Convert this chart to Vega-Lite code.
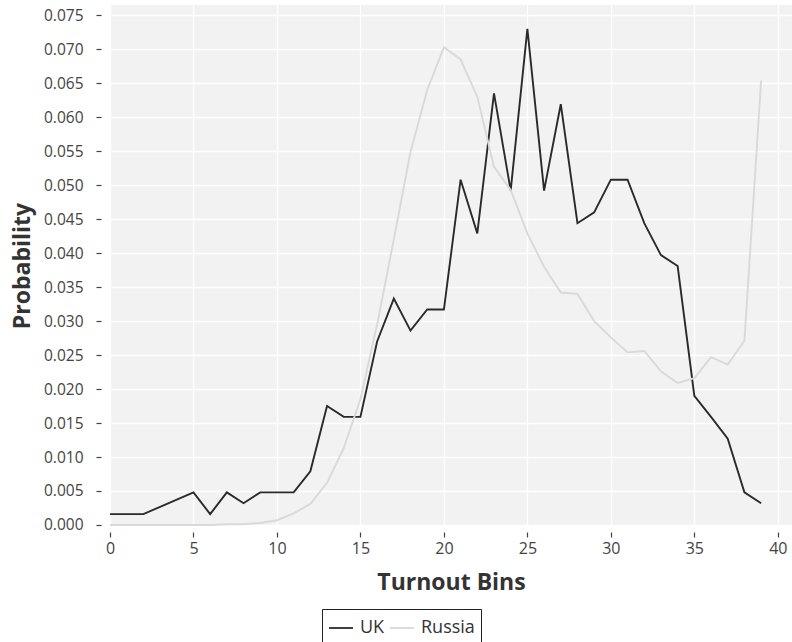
{
  "$schema": "https://vega.github.io/schema/vega-lite/v6.json",
  "width": 682,
  "height": 521,
  "autosize": {"type": "none"},
  "padding": {"left": 110, "top": 5, "right": 0, "bottom": 116},
  "background": "white",
  "config": {
    "font": "Open Sans",
    "view": {"fill": "#f2f2f2", "stroke": null}
  },
  "data": {
    "values": [
      {"bin": 0, "country": "UK", "p": 0.0016},
      {"bin": 2, "country": "UK", "p": 0.0016},
      {"bin": 5, "country": "UK", "p": 0.0048},
      {"bin": 6, "country": "UK", "p": 0.0016},
      {"bin": 7, "country": "UK", "p": 0.0048},
      {"bin": 8, "country": "UK", "p": 0.0032},
      {"bin": 9, "country": "UK", "p": 0.0048},
      {"bin": 10, "country": "UK", "p": 0.0048},
      {"bin": 11, "country": "UK", "p": 0.0048},
      {"bin": 12, "country": "UK", "p": 0.0079},
      {"bin": 13, "country": "UK", "p": 0.0175},
      {"bin": 14, "country": "UK", "p": 0.0159},
      {"bin": 15, "country": "UK", "p": 0.0159},
      {"bin": 16, "country": "UK", "p": 0.0270},
      {"bin": 17, "country": "UK", "p": 0.0333},
      {"bin": 18, "country": "UK", "p": 0.0286},
      {"bin": 19, "country": "UK", "p": 0.0317},
      {"bin": 20, "country": "UK", "p": 0.0317},
      {"bin": 21, "country": "UK", "p": 0.0508},
      {"bin": 22, "country": "UK", "p": 0.0429},
      {"bin": 23, "country": "UK", "p": 0.0635},
      {"bin": 24, "country": "UK", "p": 0.0492},
      {"bin": 25, "country": "UK", "p": 0.0730},
      {"bin": 26, "country": "UK", "p": 0.0492},
      {"bin": 27, "country": "UK", "p": 0.0619},
      {"bin": 28, "country": "UK", "p": 0.0444},
      {"bin": 29, "country": "UK", "p": 0.0460},
      {"bin": 30, "country": "UK", "p": 0.0508},
      {"bin": 31, "country": "UK", "p": 0.0508},
      {"bin": 32, "country": "UK", "p": 0.0444},
      {"bin": 33, "country": "UK", "p": 0.0397},
      {"bin": 34, "country": "UK", "p": 0.0381},
      {"bin": 35, "country": "UK", "p": 0.0190},
      {"bin": 36, "country": "UK", "p": 0.0159},
      {"bin": 37, "country": "UK", "p": 0.0127},
      {"bin": 38, "country": "UK", "p": 0.0048},
      {"bin": 39, "country": "UK", "p": 0.0032},
      {"bin": 0, "country": "Russia", "p": 0.0},
      {"bin": 1, "country": "Russia", "p": 0.0},
      {"bin": 2, "country": "Russia", "p": 0.0},
      {"bin": 3, "country": "Russia", "p": 0.0},
      {"bin": 4, "country": "Russia", "p": 0.0},
      {"bin": 5, "country": "Russia", "p": 0.0},
      {"bin": 6, "country": "Russia", "p": 0.0},
      {"bin": 7, "country": "Russia", "p": 0.0001},
      {"bin": 8, "country": "Russia", "p": 0.0001},
      {"bin": 9, "country": "Russia", "p": 0.0003},
      {"bin": 10, "country": "Russia", "p": 0.0007},
      {"bin": 11, "country": "Russia", "p": 0.0017},
      {"bin": 12, "country": "Russia", "p": 0.0031},
      {"bin": 13, "country": "Russia", "p": 0.0062},
      {"bin": 14, "country": "Russia", "p": 0.0113},
      {"bin": 15, "country": "Russia", "p": 0.0185},
      {"bin": 16, "country": "Russia", "p": 0.0295},
      {"bin": 17, "country": "Russia", "p": 0.0420},
      {"bin": 18, "country": "Russia", "p": 0.0549},
      {"bin": 19, "country": "Russia", "p": 0.0640},
      {"bin": 20, "country": "Russia", "p": 0.0703},
      {"bin": 21, "country": "Russia", "p": 0.0685},
      {"bin": 22, "country": "Russia", "p": 0.0630},
      {"bin": 23, "country": "Russia", "p": 0.0527},
      {"bin": 24, "country": "Russia", "p": 0.0493},
      {"bin": 25, "country": "Russia", "p": 0.0429},
      {"bin": 26, "country": "Russia", "p": 0.0380},
      {"bin": 27, "country": "Russia", "p": 0.0342},
      {"bin": 28, "country": "Russia", "p": 0.0340},
      {"bin": 29, "country": "Russia", "p": 0.0300},
      {"bin": 30, "country": "Russia", "p": 0.0276},
      {"bin": 31, "country": "Russia", "p": 0.0254},
      {"bin": 32, "country": "Russia", "p": 0.0256},
      {"bin": 33, "country": "Russia", "p": 0.0226},
      {"bin": 34, "country": "Russia", "p": 0.0209},
      {"bin": 35, "country": "Russia", "p": 0.0216},
      {"bin": 36, "country": "Russia", "p": 0.0247},
      {"bin": 37, "country": "Russia", "p": 0.0236},
      {"bin": 38, "country": "Russia", "p": 0.0271},
      {"bin": 39, "country": "Russia", "p": 0.0654}
    ]
  },
  "mark": {"type": "line", "strokeWidth": 1.9},
  "encoding": {
    "x": {
      "field": "bin",
      "type": "quantitative",
      "scale": {"domain": [0, 40.85], "nice": false, "zero": false},
      "axis": {
        "title": "Turnout Bins",
        "values": [0, 5, 10, 15, 20, 25, 30, 35, 40],
        "format": "d",
        "domain": false,
        "offset": 6,
        "tickSize": 5,
        "tickColor": "#444444",
        "tickWidth": 1.2,
        "labelPadding": 3,
        "labelFontSize": 16,
        "labelColor": "#444444",
        "labelFlush": false,
        "titleFontSize": 23,
        "titleFontWeight": "bold",
        "titleColor": "#333333",
        "titlePadding": 15,
        "grid": true,
        "gridColor": "white",
        "gridWidth": 1.3
      }
    },
    "y": {
      "field": "p",
      "type": "quantitative",
      "scale": {"domain": [-0.00015, 0.0765], "nice": false, "zero": false},
      "axis": {
        "title": "Probability",
        "values": [0, 0.005, 0.01, 0.015, 0.02, 0.025, 0.03, 0.035, 0.04, 0.045, 0.05, 0.055, 0.06, 0.065, 0.07, 0.075],
        "format": ".3f",
        "domain": false,
        "offset": 9,
        "tickSize": 5,
        "tickColor": "#444444",
        "tickWidth": 1.2,
        "labelPadding": 13,
        "labelFontSize": 15.5,
        "labelColor": "#444444",
        "labelFlush": false,
        "titleFontSize": 23,
        "titleFontWeight": "bold",
        "titleColor": "#333333",
        "titlePadding": 9,
        "grid": true,
        "gridColor": "white",
        "gridWidth": 1.3
      }
    },
    "color": {
      "field": "country",
      "type": "nominal",
      "scale": {"domain": ["UK", "Russia"], "range": ["#2a2a2a", "#d9d9d9"]},
      "legend": {
        "title": null,
        "orient": "none",
        "direction": "horizontal",
        "legendX": 212,
        "legendY": 604,
        "strokeColor": "#222222",
        "fillColor": "white",
        "padding": 6,
        "symbolType": "stroke",
        "symbolSize": 576,
        "symbolStrokeWidth": 1.8,
        "labelFontSize": 18,
        "labelColor": "#333333",
        "labelOffset": 6,
        "columnPadding": 1
      }
    }
  }
}
